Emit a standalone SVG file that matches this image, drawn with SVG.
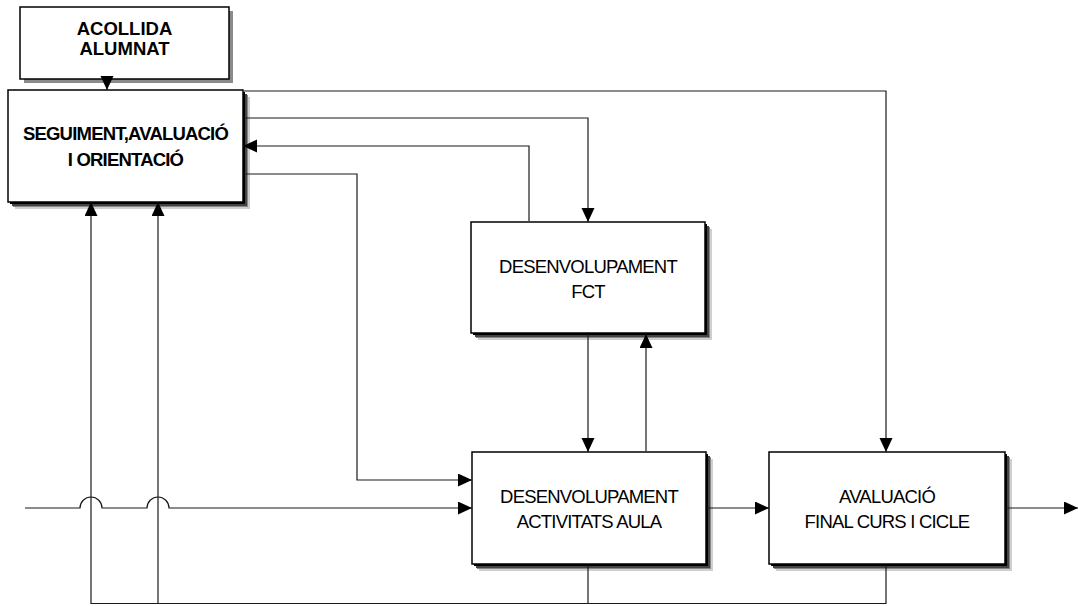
<svg xmlns="http://www.w3.org/2000/svg" width="1078" height="606" viewBox="0 0 1078 606">
<style>
.box{fill:#fff;stroke:#000;stroke-width:1.5}
.sh1{fill:#000}
.sh2{fill:#444}
.sh3{fill:#888}
.sh4{fill:#cfcfcf}
.gsh{fill:#8a8a8a}
.tb{font-family:"Liberation Sans",Arial,sans-serif;font-weight:bold;font-size:18.5px;text-anchor:middle;fill:#000}
.tr{font-family:"Liberation Sans",Arial,sans-serif;font-size:18.5px;letter-spacing:-0.8px;text-anchor:middle;fill:#000}
.ln{fill:none;stroke:#1a1a1a;stroke-width:1.2}
</style>
<defs>
<marker id="ah" markerUnits="userSpaceOnUse" markerWidth="15" markerHeight="14" refX="14" refY="6.5" orient="auto">
<path d="M0,0 L14,6.5 L0,13 z" fill="#000"/>
</marker>
</defs>
<g id="acollida">
<rect class="gsh" x="24" y="11" width="209" height="72"/>
<rect class="box" x="20" y="7" width="209" height="72" stroke-width="1"/>
<text class="tb" x="124.5" y="35">ACOLLIDA</text>
<text class="tb" x="124.5" y="55">ALUMNAT</text>
</g>
<g id="seguiment">
<rect class="sh4" x="15" y="97" width="235" height="112"/>
<rect class="sh3" x="13" y="95" width="235" height="112"/>
<rect class="sh2" x="12" y="94" width="235" height="112"/>
<rect class="sh1" x="10" y="92" width="235" height="112"/>
<rect class="box" x="8" y="90" width="235" height="112" stroke-width="2"/>
<text class="tb" x="125.5" y="140" letter-spacing="-0.8">SEGUIMENT,AVALUACIÓ</text>
<text class="tb" x="125.5" y="166" letter-spacing="-0.8">I ORIENTACIÓ</text>
</g>
<g id="fct">
<rect class="sh4" x="478" y="229" width="234" height="111"/>
<rect class="sh3" x="476" y="227" width="234" height="111"/>
<rect class="sh2" x="475" y="226" width="234" height="111"/>
<rect class="sh1" x="473" y="224" width="234" height="111"/>
<rect class="box" x="471" y="222" width="234" height="111"/>
<text class="tr" x="588" y="273">DESENVOLUPAMENT</text>
<text class="tr" x="588" y="298">FCT</text>
</g>
<g id="activitats">
<rect class="sh4" x="479" y="459" width="234" height="112"/>
<rect class="sh3" x="477" y="457" width="234" height="112"/>
<rect class="sh2" x="476" y="456" width="234" height="112"/>
<rect class="sh1" x="474" y="454" width="234" height="112"/>
<rect class="box" x="472" y="452" width="234" height="112"/>
<text class="tr" x="589" y="503">DESENVOLUPAMENT</text>
<text class="tr" x="589" y="528">ACTIVITATS AULA</text>
</g>
<g id="avaluacio">
<rect class="sh4" x="776" y="459" width="236" height="112"/>
<rect class="sh3" x="774" y="457" width="236" height="112"/>
<rect class="sh2" x="773" y="456" width="236" height="112"/>
<rect class="sh1" x="771" y="454" width="236" height="112"/>
<rect class="box" x="769" y="452" width="236" height="112"/>
<text class="tr" x="887" y="503">AVALUACIÓ</text>
<text class="tr" x="887" y="528">FINAL CURS I CICLE</text>
</g>
<g id="connectors">
<path class="ln" d="M107,79 V90" marker-end="url(#ah)"/>
<path class="ln" d="M244,91 H886 V452" marker-end="url(#ah)"/>
<path class="ln" d="M244,118 H588 V222" marker-end="url(#ah)"/>
<path class="ln" d="M529,221 V146 H243" marker-end="url(#ah)"/>
<path class="ln" d="M244,174 H357 V480 H472" marker-end="url(#ah)"/>
<path class="ln" d="M588,334 V452" marker-end="url(#ah)"/>
<path class="ln" d="M646,451 V334" marker-end="url(#ah)"/>
<path class="ln" d="M25,508 H80 A11,11 0 0 1 102,508 H147 A11,11 0 0 1 169,508 H472" marker-end="url(#ah)"/>
<path class="ln" d="M707,508 H769" marker-end="url(#ah)"/>
<path class="ln" d="M1006,508 H1078" marker-end="url(#ah)"/>
<path class="ln" d="M588,565 V603.5"/>
<path class="ln" d="M886,565 V603.5 H91 V202" marker-end="url(#ah)"/>
<path class="ln" d="M158,603.5 V202" marker-end="url(#ah)"/>
</g>
</svg>
